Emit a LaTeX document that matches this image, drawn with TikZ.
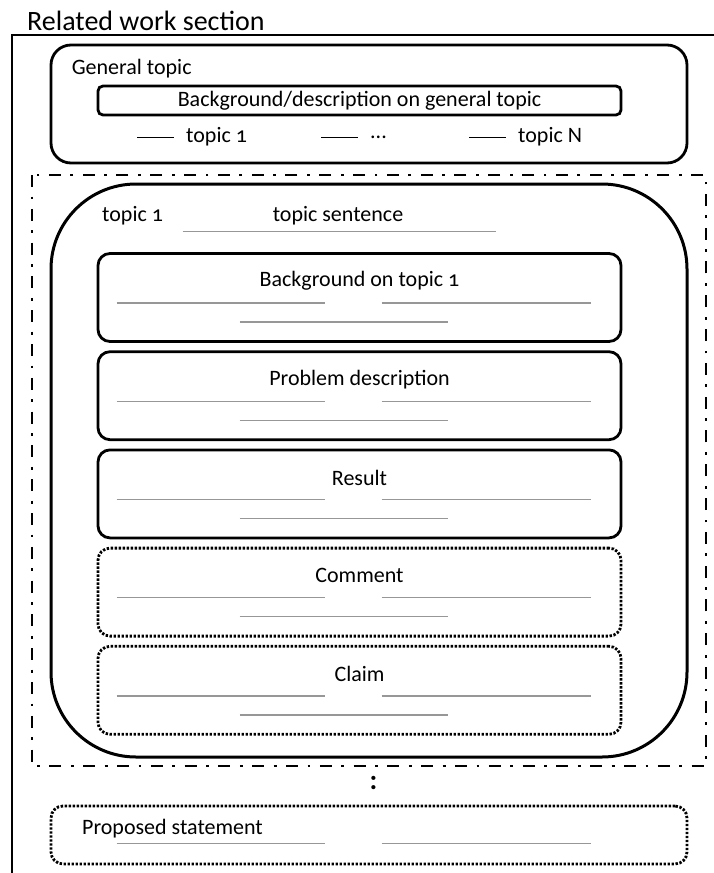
\documentclass[tikz,border=0pt]{standalone}
\usepackage{fontspec}
\setmainfont{Carlito}[Numbers=OldStyle]
\usepackage{tikz}
\usetikzlibrary{positioning,calc}
\definecolor{Ink}{HTML}{000000}
\definecolor{Rule}{HTML}{979797}

\tikzset{
	every node/.style={font=\fontsize{22}{26}\selectfont, inner sep=0pt},
	plainbox/.style={draw=Ink, line width=2.8pt, rounded corners=12pt,
		minimum width=523pt, minimum height=88pt},
	dotbox/.style={plainbox, dash pattern=on 2.4pt off 1.6pt},
	dashdotframe/.style={draw=Ink, line width=2.8pt,
		dash pattern=on 12pt off 9.5pt on 2.8pt off 9.5pt},
	fillerline/.style={draw=Rule, line width=1.3pt},
	bulletline/.style={draw=Ink, line width=1pt}
}

\begin{document}
\begin{tikzpicture}[x=1pt,y=-1pt]
			\useasboundingbox (0,0) rectangle (714,873);
			
			% section title and open frame
			\node[anchor=west, font=\fontsize{28}{32}\selectfont] (title) at (27,21) {Related work section};
			\coordinate (frametop) at (714,35);
			\coordinate (framecorner) at (12,35);
			\coordinate (framebottom) at (12,873);
			\draw[line width=2.8pt] (frametop) -- (framecorner) -- (framebottom);
			
			% general topic
			\node[
			draw=Ink,
			line width=2.8pt,
			rounded corners=20pt,
			minimum width=636pt,
			minimum height=118pt
			] (general) at (369,104) {};
			\node[anchor=west] (generallbl) at ($(general.north west)+(22,25)$) {General topic};
			\node[
			draw=Ink,
			line width=2.8pt,
			rounded corners=5pt,
			minimum width=523pt,
			minimum height=29pt
			] (gendesc) at (359.5,100.5) {Background/description on general topic};
			
			\node[anchor=west] (topicA) at (186,137) {topic 1};
			\node[anchor=west] (topicB) at (370,137) {...};
			\node[anchor=west] (topicN) at (518,137) {topic N};
			\foreach \t in {topicA,topicB,topicN}
			\draw[bulletline] ($(\t.west)+(-49,0)$) -- ($(\t.west)+(-12,0)$);
			
			% one topic in detail
			\draw[dashdotframe] (32,175) rectangle (706,766);
			\node[
			draw=Ink,
			line width=3pt,
			rounded corners=85pt,
			minimum width=636pt,
			minimum height=573pt
			] (topic) at (369,470.5) {};
			\node[anchor=west] (topiclbl) at (102,216) {topic 1};
			\node (sentence) at (338,216) {topic sentence};
			\draw[fillerline] ($(topic.north west)+(133,49)$) -- ++(313,0);
			
			\node[plainbox] (background) at (359.5,297.5) {};
			\node[plainbox, below=7.4pt of background] (problem) {};
			\node[plainbox, below=7.4pt of problem] (result) {};
			\node[dotbox, below=7.4pt of result] (comment) {};
			\node[dotbox, below=7.4pt of comment] (claim) {};
			
			\foreach \b/\txt in {background/Background on topic 1,problem/Problem description,
				result/Result,comment/Comment,claim/Claim}{
				\node (\b lbl) at ($(\b.north)+(0,29)$) {\txt};
				\draw[fillerline] ($(\b.north west)+(20,51)$) -- ++(208,0);
				\draw[fillerline] ($(\b.north west)+(285,51)$) -- ++(209,0);
				\draw[fillerline] ($(\b.north west)+(143,70)$) -- ++(208,0);
			}
			
			% continuation and closing statement
			\node[font=\bfseries\fontsize{28}{30}\selectfont] (more) at (373.5,783) {:};
			\node[
			draw=Ink,
			line width=2.8pt,
			dash pattern=on 2.4pt off 1.6pt,
			rounded corners=12pt,
			minimum width=636pt,
			minimum height=58pt
			] (proposed) at (369,835) {};
			\node[anchor=west] (proposedlbl) at (82,829) {Proposed statement};
			\draw[fillerline] ($(proposed.north west)+(67,39)$) -- ++(208,0);
			\draw[fillerline] ($(proposed.north west)+(332,39)$) -- ++(209,0);
		\end{tikzpicture}
\end{document}
